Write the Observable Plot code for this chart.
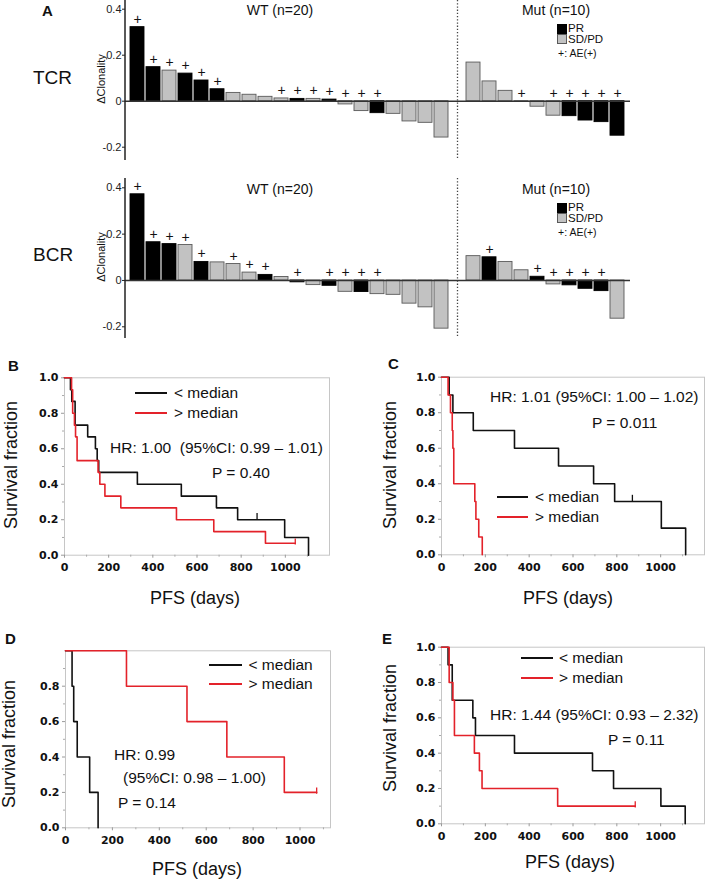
<!DOCTYPE html>
<html><head><meta charset="utf-8">
<script src="https://cdn.jsdelivr.net/npm/d3@7"></script>
<script src="https://cdn.jsdelivr.net/npm/@observablehq/plot@0.6"></script>
<style>
body{margin:0;background:#fff;}
#fig{position:relative;width:708px;height:880px;overflow:hidden;font-family:"Liberation Sans",Arial,sans-serif;color:#111;background:#fff;}
.abs{position:absolute;white-space:pre;line-height:1;}
svg.km g[aria-label$="tick label"] text{font-weight:bold;font-family:"DejaVu Sans",Verdana,sans-serif;font-size:11px;}
</style></head><body><div id="fig"></div>
<script>
// ---------- Panel A data ----------
const groups = ["WT (n=20)", "Mut (n=10)"];
const tcrWT     = [0.322,0.148,0.133,0.12,0.09,0.052,0.036,0.028,0.019,0.012,0.01,0.01,0.007,-0.014,-0.043,-0.052,-0.055,-0.088,-0.094,-0.158];
const tcrWTresp = ["PR","PR","SD","PR","PR","PR","SD","SD","SD","SD","PR","SD","PR","SD","SD","PR","SD","SD","SD","SD"];
const tcrWTae   = [1,1,1,1,1,1,0,0,0,1,1,1,1,1,1,1,0,0,0,0];
const tcrMut     = [0.168,0.086,0.045,-0.002,-0.024,-0.063,-0.065,-0.084,-0.091,-0.15];
const tcrMutResp = ["SD","SD","SD","SD","SD","SD","PR","PR","PR","PR"];
const tcrMutAe   = [0,0,0,1,0,1,1,1,1,1];
const bcrWT     = [0.372,0.165,0.157,0.153,0.08,0.078,0.071,0.034,0.024,0.015,-0.008,-0.02,-0.023,-0.049,-0.05,-0.059,-0.062,-0.1,-0.116,-0.208];
const bcrWTresp = ["PR","PR","PR","SD","PR","SD","SD","SD","PR","SD","PR","SD","PR","SD","PR","SD","SD","SD","SD","SD"];
const bcrWTae   = [1,1,1,1,1,0,1,1,1,0,1,0,1,1,1,1,0,0,0,0];
const bcrMut     = [0.105,0.1,0.08,0.044,0.016,-0.017,-0.021,-0.036,-0.046,-0.165];
const bcrMutResp = ["SD","PR","SD","SD","PR","SD","PR","PR","PR","SD"];
const bcrMutAe   = [0,1,0,0,1,1,1,1,1,0];
const clonTicks = [-0.2, 0, 0.2, 0.4];

// ---------- Kaplan-Meier data [days, survival] ----------
const bBlack = [[0,1],[27,0.933],[33,0.867],[48,0.733],[105,0.667],[140,0.6],[148,0.533],[155,0.467],[330,0.4],[529,0.333],[688,0.267],[784,0.2],[997,0.1],[1105,0]];
const bRed   = [[0,1],[32,0.933],[37,0.8],[45,0.733],[50,0.667],[57,0.533],[152,0.467],[160,0.4],[183,0.333],[255,0.267],[507,0.2],[676,0.133],[910,0.067],[1045,0.067]];
const bBlackCens = [[872,0.2]];
const bRedCens   = [[1045,0.067]];
const cBlack = [[0,1],[35,0.9],[52,0.8],[145,0.7],[333,0.6],[534,0.5],[694,0.4],[790,0.3],[1003,0.15],[1114,0]];
const cRed   = [[0,1],[30,0.9],[41,0.8],[49,0.7],[52,0.6],[56,0.4],[152,0.3],[157,0.2],[170,0.1],[186,0]];
const cBlackCens = [[871,0.3]];
const cRedCens   = [];
const dBlack = [[0,1],[28,0.8],[35,0.6],[50,0.4],[103,0.2],[139,0]];
const dRed   = [[0,1],[260,0.8],[518,0.6],[688,0.4],[933,0.2],[1071,0.2]];
const dBlackCens = [];
const dRedCens   = [[1071,0.2]];
const eBlack = [[0,1],[30,0.9],[49,0.7],[143,0.6],[155,0.5],[333,0.4],[689,0.3],[785,0.2],[1001,0.1],[1112,0]];
const eRed   = [[0,1],[35,0.8],[52,0.7],[59,0.5],[150,0.4],[173,0.3],[185,0.2],[530,0.1],[884,0.1]];
const eBlackCens = [];
const eRedCens   = [[884,0.1]];
const survTicks = [0, 0.2, 0.4, 0.6, 0.8, 1.0];
const survMinor = [0.1, 0.3, 0.5, 0.7, 0.9];
const dayTicks = [0, 200, 400, 600, 800, 1000];
const dayMinor = [100, 300, 500, 700, 900, 1100];

const fig = document.getElementById("fig");
const FONT = '"Liberation Sans", Arial, sans-serif';
const RED = "#e3222a";
const GRAY = "#c2c2c2";

function place(svg, left, top, cls) {
  svg.style.position = "absolute";
  svg.style.left = left + "px";
  svg.style.top = top + "px";
  if (cls) svg.classList.add(cls);
  fig.appendChild(svg);
}
function label(txt, x, y, o = {}) {
  const d = document.createElement("div");
  d.className = "abs";
  d.textContent = txt;
  d.style.left = x + "px";
  d.style.top = y + "px";
  d.style.fontSize = (o.size || 15.5) + "px";
  if (o.bold) d.style.fontWeight = "bold";
  if (o.color) d.style.color = o.color;
  const ax = o.anchor === "middle" ? "-50%" : o.anchor === "end" ? "-100%" : "0";
  d.style.transform = `translate(${ax},-50%)` + (o.rotate ? ` rotate(${o.rotate}deg)` : "");
  fig.appendChild(d);
}
function box(x, y, w, h, fill, stroke) {
  const d = document.createElement("div");
  d.style.cssText = `position:absolute;left:${x}px;top:${y}px;width:${w}px;height:${h}px;background:${fill};box-sizing:border-box;border:1px solid ${stroke};`;
  fig.appendChild(d);
}
function hline(x1, x2, y, color) {
  const d = document.createElement("div");
  d.style.cssText = `position:absolute;left:${x1}px;top:${y - 1}px;width:${x2 - x1}px;height:2px;background:${color};`;
  fig.appendChild(d);
}
function leftLine(color, w) {
  return (index, scales, values, dims) =>
    d3.create("svg:line")
      .attr("x1", dims.marginLeft).attr("x2", dims.marginLeft)
      .attr("y1", dims.marginTop).attr("y2", dims.height - dims.marginBottom)
      .attr("stroke", color).attr("stroke-width", w).node();
}

// ---------- Panel A ----------
const ids = [...tcrWT.map((_, i) => "w" + i), "gap", ...tcrMut.map((_, i) => "m" + i)];
function mkRows(wt, wtR, wtA, mut, mutR, mutA) {
  const rows = [];
  wt.forEach((v, i) => rows.push({id: "w" + i, v, r: wtR[i], ae: wtA[i]}));
  mut.forEach((v, i) => rows.push({id: "m" + i, v, r: mutR[i], ae: mutA[i]}));
  return rows;
}
function barPanel(rows, top, mt, mb, range) {
  const svg = Plot.plot({
    width: 708, height: 170,
    marginLeft: 125, marginRight: 78, marginTop: mt, marginBottom: mb,
    x: {domain: ids, padding: 0.1, axis: null, label: null},
    y: {domain: [-0.2, 0.4], range, axis: null, label: null},
    style: {fontFamily: FONT, background: "transparent", overflow: "visible"},
    marks: [
      Plot.ruleX(["gap"], {stroke: "#444", strokeWidth: 1.3, strokeDasharray: "1.3,1.9"}),
      Plot.barY(rows.filter(d => d.r !== "PR"), {x: "id", y1: 0, y2: "v", fill: GRAY, stroke: "#5a5a5a", strokeWidth: 0.9}),
      Plot.barY(rows.filter(d => d.r === "PR"), {x: "id", y1: 0, y2: "v", fill: "#000", stroke: "#000", strokeWidth: 0.9}),
      Plot.ruleY([0], {stroke: "#333", strokeWidth: 1.5}),
      Plot.text(rows.filter(d => d.ae), {x: "id", y: d => Math.max(0, d.v), text: () => "+", dy: -8, fontSize: 14, fill: "#111"}),
      Plot.axisY(clonTicks, {tickSize: 3, tickPadding: 1, fontSize: 11, fill: "#222", stroke: "#222", label: null,
        tickFormat: d => d === 0 ? "0" : String(d)}),
      leftLine("#222", 1.5)
    ]
  });
  place(svg, 0, top);
}
barPanel(mkRows(tcrWT, tcrWTresp, tcrWTae, tcrMut, tcrMutResp, tcrMutAe), 0, 0, 10, [146.7, 8.7]);
barPanel(mkRows(bcrWT, bcrWTresp, bcrWTae, bcrMut, bcrMutResp, bcrMutAe), 170, 8, 2, [156.3, 17.3]);

label("A", 42, 10, {size: 15, bold: true});
label("TCR", 33, 77, {size: 19});
label("BCR", 33, 254, {size: 19});
label("ΔClonality", 101, 79, {size: 11, anchor: "middle", rotate: -90});
label("ΔClonality", 101, 257, {size: 11, anchor: "middle", rotate: -90});
[9.5, 188.5].forEach(cy => {
  label(groups[0], 280, cy, {size: 14, anchor: "middle"});
  label(groups[1], 556, cy, {size: 14, anchor: "middle"});
});
function barLegend(y0) {
  box(557, y0, 10, 10, "#000", "#000");
  box(557, y0 + 10, 10, 10, GRAY, "#5a5a5a");
  label("PR", 568, y0 + 5, {size: 11.5});
  label("SD/PD", 568, y0 + 15.5, {size: 11.5});
  label("+: AE(+)", 558, y0 + 29, {size: 10.5});
}
barLegend(24.3);
barLegend(203.3);

// ---------- KM panels ----------
function km(cfg) {
  const {left, top, ml, mr, mt, mb, xmax, black, red, blackCens, redCens, yTicks} = cfg;
  const tickFont = {fontFamily: "DejaVu Sans", fontWeight: "bold", fontSize: 11, fill: "#111", stroke: "#9a9a9a"};
  const svg = Plot.plot({
    width: 354, height: 270,
    marginLeft: ml, marginRight: mr, marginTop: mt, marginBottom: mb,
    x: {domain: [0, xmax], label: null},
    y: {domain: [0, 1], label: null},
    style: {fontFamily: FONT, background: "transparent", overflow: "visible"},
    marks: [
      Plot.frame({stroke: "#c6c6c6"}),
      Plot.axisY(survMinor, {tickSize: 2, tickFormat: () => "", stroke: "#aaa", label: null}),
      Plot.axisY(yTicks, {tickSize: 3, tickPadding: 3, tickFormat: d3.format(".1f"), label: null, ...tickFont}),
      Plot.axisX(dayMinor.filter(d => d <= xmax), {tickSize: 2, tickFormat: () => "", stroke: "#aaa", label: null}),
      Plot.axisX(dayTicks, {tickSize: 3, tickPadding: 5, tickFormat: d => String(d), label: null, ...tickFont}),
      Plot.line(black, {x: d => d[0], y: d => d[1], curve: "step-after", stroke: "#111", strokeWidth: 1.6}),
      Plot.line(red, {x: d => d[0], y: d => d[1], curve: "step-after", stroke: RED, strokeWidth: 1.6}),
      Plot.ruleX(blackCens, {x: d => d[0], y1: d => d[1], y2: d => d[1] + 0.035, stroke: "#111", strokeWidth: 1.3}),
      Plot.ruleX(redCens, {x: d => d[0], y1: d => d[1] - 0.01, y2: d => d[1] + 0.025, stroke: RED, strokeWidth: 1.3})
    ]
  });
  place(svg, left, top, "km");
}
km({left: 0, top: 340, ml: 64, mr: 25, mt: 37.3, mb: 55.3, xmax: 1200, black: bBlack, red: bRed, blackCens: bBlackCens, redCens: bRedCens, yTicks: survTicks});
km({left: 354, top: 340, ml: 87, mr: 4, mt: 36.7, mb: 55.7, xmax: 1200, black: cBlack, red: cRed, blackCens: cBlackCens, redCens: cRedCens, yTicks: survTicks});
km({left: 0, top: 610, ml: 65, mr: 24, mt: 40.3, mb: 52.7, xmax: 1130, black: dBlack, red: dRed, blackCens: dBlackCens, redCens: dRedCens, yTicks: survTicks.slice(0, 5)});
km({left: 354, top: 610, ml: 87, mr: 4, mt: 36.7, mb: 56.7, xmax: 1200, black: eBlack, red: eRed, blackCens: eBlackCens, redCens: eRedCens, yTicks: survTicks});

// panel letters and axis titles
label("B", 8, 365, {size: 15, bold: true});
label("C", 388, 363, {size: 15, bold: true});
label("D", 5, 638, {size: 15, bold: true});
label("E", 382, 638, {size: 15, bold: true});
[[11, 465, 195, 598], [390, 465, 568, 598], [9, 744, 197, 869], [390, 728, 570, 861.5]].forEach(([yx, yy, xx, xy]) => {
  label("Survival fraction", yx, yy, {size: 18, anchor: "middle", rotate: -90});
  label("PFS (days)", xx, xy, {size: 18, anchor: "middle"});
});

// legends
function kmLegend(x1, x2, y1, y2, tx) {
  hline(x1, x2, y1, "#111");
  hline(x1, x2, y2, RED);
  label("< median", tx, y1);
  label("> median", tx, y2);
}
kmLegend(135, 167, 393.3, 412.7, 174);
kmLegend(497, 528, 496.7, 516.7, 535);
kmLegend(209, 242, 665, 684.3, 248.5);
kmLegend(521, 553, 657.7, 677.7, 559);

// statistics
label("HR: 1.00  (95%CI: 0.99 – 1.01)", 110, 448);
label("P = 0.40", 212, 473.3);
label("HR: 1.01 (95%CI: 1.00 – 1.02)", 490, 396.7);
label("P = 0.011", 592, 422.7);
label("HR: 0.99", 114, 755);
label("(95%CI: 0.98 – 1.00)", 123, 778);
label("P = 0.14", 118, 803);
label("HR: 1.44 (95%CI: 0.93 – 2.32)", 490, 715);
label("P = 0.11", 608, 740);
</script></body></html>
